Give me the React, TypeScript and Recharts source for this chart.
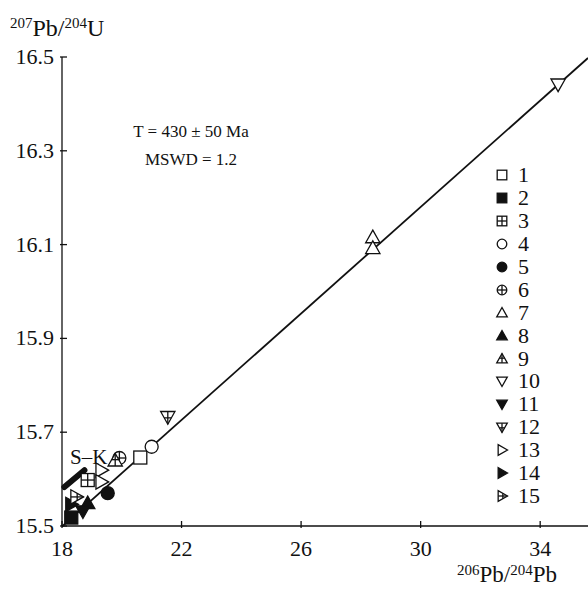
import { ScatterChart, Scatter, XAxis, YAxis, ReferenceLine } from 'recharts';

// sample groups 1..15, each point = [206Pb/204Pb, 207Pb/204Pb]
const g1 = [[20.62, 15.646]];
const g2 = [[18.31, 15.518]];
const g3 = [[18.86, 15.598]];
const g4 = [[21.0, 15.669]];
const g5 = [[19.53, 15.57]];
const g6 = [[19.92, 15.645]];
const g7 = [[28.4, 16.115], [28.4, 16.092]];
const g8 = [[18.86, 15.548]];
const g9 = [[19.78, 15.639]];
const g10 = [[34.6, 16.442]];
const g11 = [[18.7, 15.532]];
const g12 = [[21.54, 15.733]];
const g13 = [[19.31, 15.619], [19.31, 15.594]];
const g14 = [[18.3, 15.546]];
const g15 = [[18.47, 15.562]];

const groups = [g1, g2, g3, g4, g5, g6, g7, g8, g9, g10, g11, g12, g13, g14, g15];
const groupLabels = ['1', '2', '3', '4', '5', '6', '7', '8', '9', '10', '11', '12', '13', '14', '15'];
const markerKinds = [
  'sq-open', 'sq-fill', 'sq-cross', 'ci-open', 'ci-fill', 'ci-cross',
  'up-open', 'up-fill', 'up-hatch', 'dn-open', 'dn-fill', 'dn-hatch',
  'rt-open', 'rt-fill', 'rt-hatch',
];

// isochron and S-K growth curve segment
const isochronX = [18, 35.6];
const isochronY = [15.499, 16.498];
const skX = [18.08, 18.75];
const skY = [15.583, 15.619];

const xTicks = [18, 22, 26, 30, 34];
const yTicks = [15.5, 15.7, 15.9, 16.1, 16.3, 16.5];

const FONT = '"Liberation Serif", "DejaVu Serif", serif';

function drawMarker(kind: string, cx: number, cy: number, r: number) {
  const sw = 1.3;
  const [shape, style] = kind.split('-');
  const fill = style === 'fill' ? '#111' : '#fff';
  if (shape === 'sq') {
    return (
      <g>
        <rect x={cx - r} y={cy - r} width={2 * r} height={2 * r} fill={fill} stroke="#111" strokeWidth={sw} />
        {style === 'cross' && (
          <>
            <line x1={cx - r} x2={cx + r} y1={cy} y2={cy} stroke="#111" strokeWidth={sw} />
            <line x1={cx} x2={cx} y1={cy - r} y2={cy + r} stroke="#111" strokeWidth={sw} />
          </>
        )}
      </g>
    );
  }
  if (shape === 'ci') {
    return (
      <g>
        <circle cx={cx} cy={cy} r={r} fill={fill} stroke="#111" strokeWidth={sw} />
        {style === 'cross' && (
          <>
            <line x1={cx - r} x2={cx + r} y1={cy} y2={cy} stroke="#111" strokeWidth={sw} />
            <line x1={cx} x2={cx} y1={cy - r} y2={cy + r} stroke="#111" strokeWidth={sw} />
          </>
        )}
      </g>
    );
  }
  // triangles: drawn pointing up, then rotated
  const angle = shape === 'up' ? 0 : shape === 'dn' ? 180 : 90;
  const h1 = r * 1.15;
  const h2 = r * 0.8;
  const w = r * 1.1;
  const pts = `${cx},${cy - h1} ${cx - w},${cy + h2} ${cx + w},${cy + h2}`;
  const midY = cy + (h2 - h1) / 2;
  return (
    <g transform={`rotate(${angle} ${cx} ${cy})`}>
      <polygon points={pts} fill={fill} stroke="#111" strokeWidth={sw} />
      {style === 'hatch' && (
        <>
          <line x1={cx} x2={cx} y1={cy - h1} y2={cy + h2} stroke="#111" strokeWidth={sw} />
          <line x1={cx - w / 2} x2={cx + w / 2} y1={midY} y2={midY} stroke="#111" strokeWidth={sw} />
        </>
      )}
    </g>
  );
}

const XTick = (props: any) => {
  const { x, y, payload } = props;
  return (
    <g>
      <line x1={x} x2={x} y1={y} y2={y - 7} stroke="#111" strokeWidth={1.3} />
      <text x={x} y={y + 28} textAnchor="middle" style={{ fontFamily: FONT, fontSize: 22 }} fill="#111">
        {payload.value}
      </text>
    </g>
  );
};

const YTick = (props: any) => {
  const { x, y, payload } = props;
  return (
    <g>
      <line x1={x} x2={x + 7} y1={y} y2={y} stroke="#111" strokeWidth={1.3} />
      <text x={x - 6} y={y + 7} textAnchor="end" style={{ fontFamily: FONT, fontSize: 22 }} fill="#111">
        {Number(payload.value).toFixed(1)}
      </text>
    </g>
  );
};

const supStyle = { fontSize: 15, verticalAlign: 'top', lineHeight: 1 };

export default function App() {
  return (
    <div style={{ position: 'absolute', left: 0, top: 0, width: 588, height: 589, background: '#fff' }}>
      <ScatterChart width={588} height={589} margin={{ top: 57, right: 0, left: 0, bottom: 0 }}>
        <XAxis
          type="number"
          dataKey="x"
          domain={[18, 35.6]}
          ticks={xTicks}
          allowDataOverflow
          height={63}
          tickSize={0}
          tickLine={false}
          tick={<XTick />}
          axisLine={{ stroke: '#111', strokeWidth: 1.3 }}
        />
        <YAxis
          type="number"
          dataKey="y"
          domain={[15.5, 16.5]}
          ticks={yTicks}
          allowDataOverflow
          width={62}
          tickSize={0}
          tickLine={false}
          tick={<YTick />}
          axisLine={{ stroke: '#111', strokeWidth: 1.3 }}
        />
        <ReferenceLine
          segment={[{ x: isochronX[0], y: isochronY[0] }, { x: isochronX[1], y: isochronY[1] }]}
          stroke="#111"
          strokeWidth={1.8}
          ifOverflow="visible"
        />
        <ReferenceLine
          segment={[{ x: skX[0], y: skY[0] }, { x: skX[1], y: skY[1] }]}
          stroke="#111"
          strokeWidth={6}
          strokeLinecap="round"
          ifOverflow="visible"
        />
        {groups.map((g, i) => (
          <Scatter
            key={groupLabels[i]}
            name={groupLabels[i]}
            data={g.map(([x, y]) => ({ x, y }))}
            isAnimationActive={false}
            shape={(p: any) => drawMarker(markerKinds[i], p.cx, p.cy, 6.5)}
          />
        ))}
      </ScatterChart>

      {/* legend */}
      <div style={{ position: 'absolute', left: 494, top: 164, display: 'flex', flexDirection: 'column' }}>
        {groupLabels.map((lab, i) => (
          <div key={lab} style={{ display: 'flex', alignItems: 'center', height: 22.9 }}>
            <svg width={16} height={16} style={{ marginRight: 8 }}>
              {drawMarker(markerKinds[i], 8, 8, 4.8)}
            </svg>
            <span style={{ fontFamily: FONT, fontSize: 22, color: '#111', lineHeight: 1 }}>{lab}</span>
          </div>
        ))}
      </div>

      <div style={{ position: 'absolute', left: 10, top: 16, fontFamily: FONT, fontSize: 24, lineHeight: 1, color: '#111', whiteSpace: 'nowrap' }}>
        <span style={supStyle}>207</span>Pb/<span style={supStyle}>204</span>U
      </div>
      <div style={{ position: 'absolute', right: 31, top: 563, fontFamily: FONT, fontSize: 23, lineHeight: 1, color: '#111', whiteSpace: 'nowrap' }}>
        <span style={supStyle}>206</span>Pb/<span style={supStyle}>204</span>Pb
      </div>
      <div style={{ position: 'absolute', left: 121, top: 118, width: 140, textAlign: 'center', fontFamily: FONT, fontSize: 17, color: '#111', lineHeight: '28px' }}>
        <div>T = 430 ± 50 Ma</div>
        <div>MSWD = 1.2</div>
      </div>
      <div style={{ position: 'absolute', left: 70, top: 445, fontFamily: FONT, fontSize: 21, color: '#111' }}>S–K</div>
    </div>
  );
}
